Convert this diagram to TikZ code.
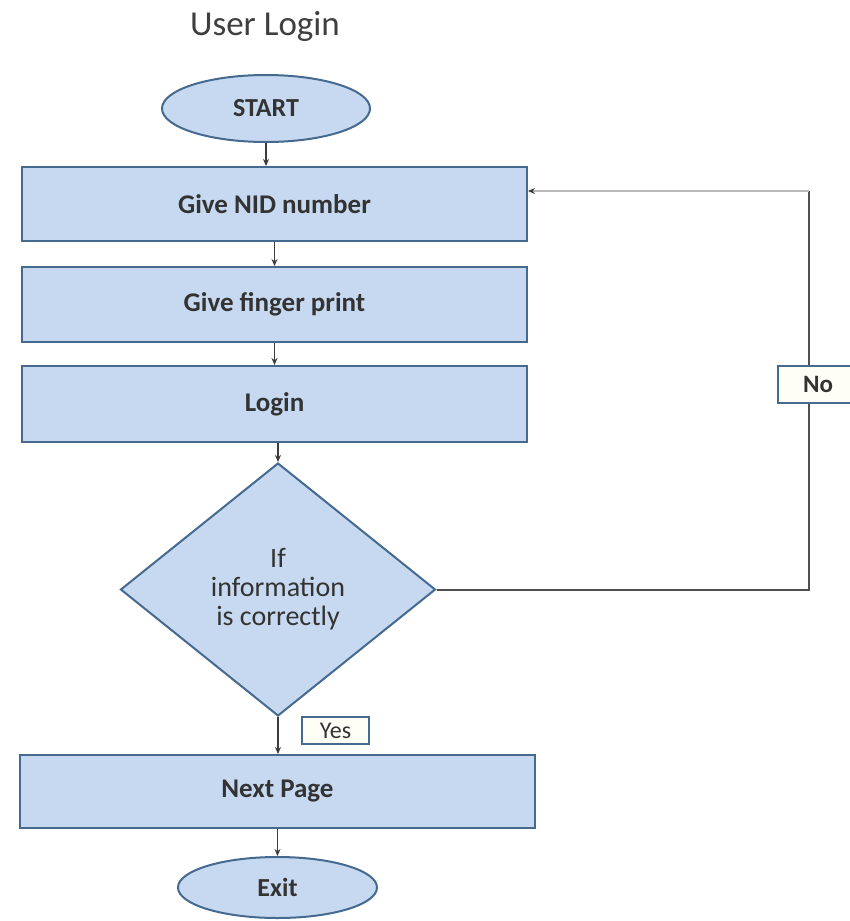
\documentclass[tikz,border=0pt]{standalone}
\usepackage{fontspec}
\setmainfont{Carlito}
\usetikzlibrary{shapes.geometric,arrows.meta}
\definecolor{boxfill}{HTML}{C6D9F0}
\definecolor{boxline}{HTML}{46698F}
\definecolor{txt}{HTML}{333333}
\definecolor{titlec}{HTML}{3F3F3F}
\definecolor{conn}{HTML}{3C3C3C}
\definecolor{loopc}{HTML}{505050}
\definecolor{lightconn}{HTML}{B8B8B8}
\definecolor{lblfill}{HTML}{FFFEF6}
\begin{document}
\begin{tikzpicture}[x=1pt,y=-1pt,
  stepbox/.style={draw=boxline, fill=boxfill, line width=2pt, rectangle, inner sep=0pt,
    font=\fontsize{27}{30}\selectfont\bfseries, text=txt},
  term/.style={draw=boxline, fill=boxfill, line width=2pt, ellipse, inner sep=0pt,
    font=\fontsize{26}{30}\selectfont\bfseries, text=txt},
  decide/.style={draw=boxline, fill=boxfill, line width=2pt, diamond, inner sep=0pt,
    minimum width=315pt, minimum height=253pt, text=txt, align=center,
    font=\fontsize{28}{29}\selectfont},
  lbl/.style={draw=boxline, fill=lblfill, line width=2pt, inner sep=0pt, text=txt},
  arr/.style={draw=conn, line width=1.2pt, -{Stealth[length=7pt,width=6pt]}},
  loopline/.style={draw=loopc, line width=2pt},
  toparr/.style={draw=lightconn, line width=2pt, -{Stealth[length=7pt,width=6pt,color=conn]}}
]
\useasboundingbox (0,0) rectangle (850,921);
\fill[white] (0,0) rectangle (850,921);

\node[font=\fontsize{35}{40}\selectfont, text=titlec] (title) at (265,26) {User Login};
\node[term, minimum width=208pt, minimum height=67pt] (start) at (266,108.5) {START};
\node[stepbox, minimum width=505pt, minimum height=74pt] (b1) at (274.5,204) {Give NID number};
\node[stepbox, minimum width=505pt, minimum height=75pt] (b2) at (274.5,304.5) {Give finger print};
\node[stepbox, minimum width=505pt, minimum height=76pt] (b3) at (274.5,404) {Login};
\node[decide] (d) at (278,589.5) {If\\information\\is correctly};
\node[stepbox, minimum width=515pt, minimum height=73pt] (next) at (277.5,791.5) {Next Page};
\node[term, minimum width=199pt, minimum height=61pt] (exit) at (277.5,887.5) {Exit};

\draw[arr] (start.south) -- (start.south |- b1.north);
\draw[arr] (b1.south) -- (b2.north);
\draw[arr] (b2.south) -- (b3.north);
\draw[arr] (b3.south -| d.north) -- (d.north);
\draw[arr] (d.south) -- (d.south |- next.north);
\draw[arr] (next.south -| exit.north) -- (exit.north);

\coordinate (lb) at (809,589.5);
\coordinate (lt) at (809,191);
\draw[loopline] (d.east) -- (lb) -- (lt);
\draw[toparr] (lt) -- (b1.east |- lt);

\node[lbl, minimum width=80pt, minimum height=37pt, anchor=west,
  font=\fontsize{25}{28}\selectfont\bfseries] (no) at (777,384.5) {No};
\node[lbl, minimum width=67pt, minimum height=27pt,
  font=\fontsize{24}{26}\selectfont] (yes) at (335.5,730.5) {Yes};
\end{tikzpicture}
\end{document}
